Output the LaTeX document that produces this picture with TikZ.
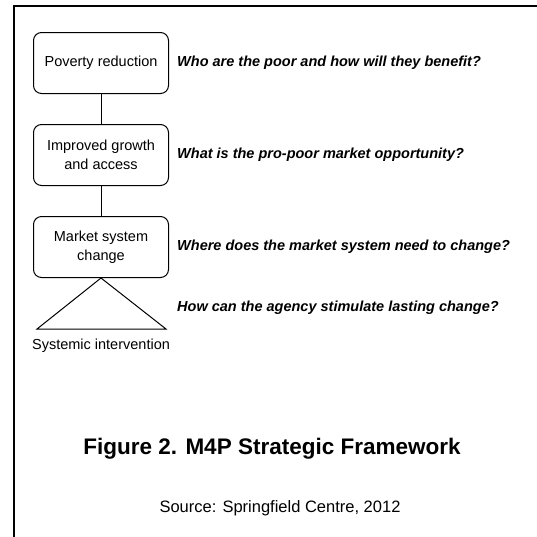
\documentclass[tikz,border=0pt]{standalone}
\usepackage{fontspec}
\setmainfont{Liberation Sans}
\usetikzlibrary{positioning}
\tikzset{
  stage/.style={draw, rounded corners=8pt, line width=1pt, align=center, minimum width=135pt, minimum height=61pt, inner sep=2pt, font=\fontsize{14.5}{19}\selectfont},
  question/.style={anchor=west, inner sep=0pt, font=\fontsize{14.5}{17}\selectfont\bfseries\itshape},
  link/.style={line width=1pt},
  plain/.style={inner sep=0pt, font=\fontsize{14.5}{17}\selectfont},
  caption/.style={inner sep=0pt, font=\fontsize{22.5}{27}\selectfont\bfseries},
  source/.style={inner sep=0pt, font=\fontsize{16.5}{20}\selectfont}
}

\begin{document}
\begin{tikzpicture}[x=1pt, y=-1pt, node distance=30pt]
  \useasboundingbox (0,0) rectangle (537,536);
  % frame, open at right and bottom
  \draw[line width=2pt] (14,537) -- (14,6) -- (538,6);

  % the chain of levels
  \node[stage] (pov) at (101,63) {Poverty reduction};
  \node[stage, below=of pov] (grow) {Improved growth\\and access};
  \node[stage, below=of grow] (msc) {Market system\\change};

  \draw[link] (pov) -- (grow);
  \draw[link] (grow) -- (msc);

  % intervention triangle under the last level
  \coordinate (tl) at (37,329);
  \coordinate (tr) at (166,329);
  \draw[link] (msc.south) -- (tl) -- (tr) -- cycle;
  \node[plain] (sys) at (101,346) {Systemic intervention};

  % guiding questions
  \node[question, right=8pt of pov] (q1) {Who are the poor and how will they benefit?};
  \node[question, right=8pt of grow] (q2) {What is the pro-poor market opportunity?};
  \node[question, right=8pt of msc] (q3) {Where does the market system need to change?};
  \node[question, below=61pt of q3.west, anchor=west] (q4) {How can the agency stimulate lasting change?};

  \node[caption] (title) at (272,449) {Figure 2. M4P Strategic Framework};
  \node[source] (src) at (280,508) {Source: Springfield Centre, 2012};
\end{tikzpicture}
\end{document}
